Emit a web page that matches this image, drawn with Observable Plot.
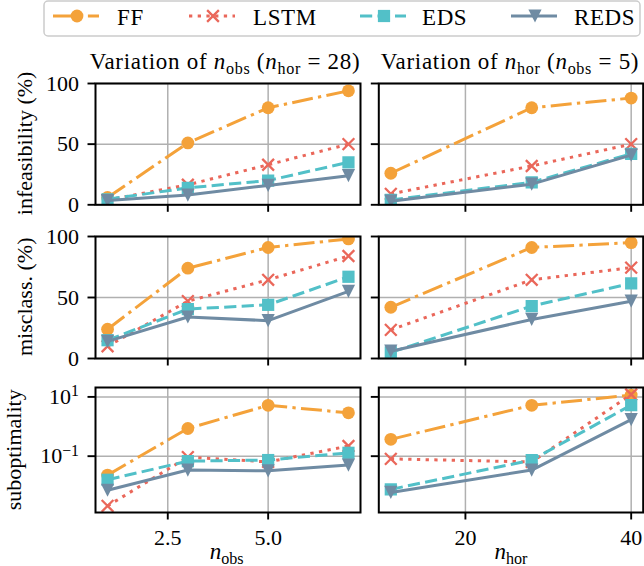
<!DOCTYPE html>
<html><head><meta charset="utf-8">
<script src="https://cdn.jsdelivr.net/npm/d3@7"></script>
<script src="https://cdn.jsdelivr.net/npm/@observablehq/plot@0.6"></script>
<style>
body{margin:0;background:#fff;}
#wrap{position:relative;width:644px;height:566px;overflow:hidden;font-family:"Liberation Serif",serif;color:#000;}
#wrap > div.panel{position:absolute;}
#overlay{position:absolute;left:0;top:0;pointer-events:none;}
</style></head><body><div id="wrap"></div>
<script>
// ---------- data ----------
const nObs = [1, 3, 5, 7];
const nHor = [11, 28, 40];
const methods = ["FF", "LSTM", "EDS", "REDS"];
const colors = ["#F4A23A", "#EA675A", "#52C0C8", "#6F8BA3"];

// each array: rows in method order FF, LSTM, EDS, REDS
const infeasObs   = [[6, 51, 80, 94], [4, 16.5, 33, 50], [4.5, 14, 20, 35], [3.5, 8, 16, 24]];
const infeasHor   = [[26, 80, 88], [9, 32, 50], [4, 18.5, 42], [3, 17, 41]];
const misclassObs = [[24, 74, 91, 98], [10, 47, 64.5, 84], [15, 40.5, 44, 67], [14, 34, 31, 55]];
const misclassHor = [[42, 91, 95], [23.5, 64.5, 74.5], [5, 43, 61.5], [6, 32, 47]];
const suboptObs   = [[0.023, 0.86, 5.2, 2.9], [0.0021, 0.093, 0.064, 0.22], [0.016, 0.068, 0.074, 0.13], [0.0071, 0.034, 0.032, 0.05]];
const suboptHor   = [[0.37, 5.2, 11.5], [0.081, 0.064, 12], [0.0076, 0.074, 5.3], [0.006, 0.034, 1.7]];

const xTicksObs = [2.5, 5.0];
const xTickLabelsObs = ["2.5", "5.0"];
const xTicksHor = [20, 40];
const xTickLabelsHor = ["20", "40"];
const yTicksPct = [0, 50, 100];
const yTickLabelsPct = ["0", "50", "100"];
const yTicksLog = [0.1, 10];
const yTickLabelsLog = ["10^−1", "10^1"];
const rowLabels = ["infeasibility (%)", "misclass. (%)", "suboptimality"];

// ---------- styles ----------
const dashes = ["21,5.3,3.3,5.3", "3.3,5.4", "12.2,5.3", undefined];
const triangleDown = {
  draw(context, size) {
    const r = Math.sqrt(size / Math.PI);
    context.moveTo(-r, -r);
    context.lineTo(r, -r);
    context.lineTo(0, r);
    context.closePath();
  }
};
const symbols = ["circle", "times", "square", triangleDown];
const radii = [6.4, 5.4, 6.9, 6.6];
const FONT = "'Liberation Serif', serif";

const wrap = d3.select("#wrap");

const colFrame = [[95, 360], [378.3, 642.7]];
const rowFrame = [[82.7, 204], [235.7, 357.7], [387.3, 512.3]];
const colSvg = [[0, 364], [366, 278]];

const panels = [
  {row: 0, col: 0, xs: nObs, data: infeasObs},
  {row: 0, col: 1, xs: nHor, data: infeasHor},
  {row: 1, col: 0, xs: nObs, data: misclassObs},
  {row: 1, col: 1, xs: nHor, data: misclassHor},
  {row: 2, col: 0, xs: nObs, data: suboptObs},
  {row: 2, col: 1, xs: nHor, data: suboptHor},
];

function seriesMarks(xs, rows) {
  const marks = [];
  rows.forEach((vals, i) => {
    const d = xs.map((x, j) => ({x, y: vals[j]}));
    marks.push(Plot.line(d, {x: "x", y: "y", stroke: colors[i], strokeWidth: 3,
      strokeDasharray: dashes[i], strokeLinecap: "butt", clip: true}));
    const isStroke = symbols[i] === "times";
    marks.push(Plot.dot(d, {x: "x", y: "y", symbol: symbols[i], r: radii[i],
      fill: isStroke ? "none" : colors[i], stroke: isStroke ? colors[i] : "none",
      strokeWidth: isStroke ? 2.3 : 0, clip: true}));
  });
  return marks;
}

for (const p of panels) {
  const [sl, sw] = colSvg[p.col];
  const [f0, f1] = colFrame[p.col];
  const [t0, t1] = rowFrame[p.row];
  const mTop = 10, mBot = p.row === 2 ? 50 : 14;
  const top = t0 - mTop;
  const height = (t1 - t0) + mTop + mBot;
  const isObs = p.col === 0;
  const xt = isObs ? xTicksObs : xTicksHor;
  const xl = isObs ? xTickLabelsObs : xTickLabelsHor;
  const isLog = p.row === 2;
  const yt = isLog ? yTicksLog : yTicksPct;
  const yl = isLog ? yTickLabelsLog : yTickLabelsPct;
  const xdom = isObs ? [0.7, 7.3] : [9.55, 41.45];
  const ydom = isLog ? [10 ** -2.9, 10 ** 1.317] : [0, 100];

  const chart = Plot.plot({
    width: sw, height,
    marginLeft: f0 - sl, marginRight: sl + sw - f1,
    marginTop: mTop, marginBottom: mBot,
    style: {fontFamily: FONT, fontSize: "22px", color: "#000", background: "none", overflow: "visible"},
    x: {domain: xdom},
    y: {domain: ydom, type: isLog ? "log" : "linear"},
    marks: [
      Plot.gridX({ticks: xt, stroke: "#b0b0b0", strokeOpacity: 1, strokeWidth: 1.5}),
      Plot.gridY({ticks: yt, stroke: "#b0b0b0", strokeOpacity: 1, strokeWidth: 1.5}),
      ...seriesMarks(p.xs, p.data),
      Plot.frame({stroke: "#000", strokeWidth: 2}),
      Plot.axisX({ticks: xt, tickSize: 7.5, tickPadding: 9, strokeWidth: 1.9, label: null,
        tickFormat: p.row === 2 ? (d => xl[xt.indexOf(d)]) : (() => "")}),
      Plot.axisY({ticks: yt, tickSize: 7.5, tickPadding: 9, strokeWidth: 1.9, label: null,
        tickFormat: p.col === 0 ? (d => yl[yt.indexOf(d)]) : (() => "")})
    ]
  });
  // superscript exponents for log tick labels
  d3.select(chart).selectAll("text").each(function () {
    const s = this.textContent;
    if (s && s.startsWith("10^")) {
      const exp = s.slice(3);
      this.textContent = "";
      const el = d3.select(this);
      el.append("tspan").text("10");
      el.append("tspan").attr("dy", "-0.48em").attr("font-size", "0.72em").text(exp);
    }
  });
  wrap.append("div").attr("class", "panel")
    .style("left", sl + "px").style("top", top + "px")
    .node().appendChild(chart);
}

// ---------- overlay text: titles, axis labels, legend ----------
const ov = wrap.append("svg").attr("id", "overlay").attr("width", 644).attr("height", 566)
  .style("font-family", FONT).style("font-size", "22px");

function mathText(g, x, y, parts, size = 22, spacing = 0) {
  const t = g.append("text").attr("x", x).attr("y", y).attr("text-anchor", "middle")
    .attr("fill", "#000").attr("font-size", size).attr("letter-spacing", spacing);
  const sub = size * 0.7, shift = size * 0.23;
  let shifted = false;
  for (const part of parts) {
    const ts = t.append("tspan").text(part.t);
    if (part.i) ts.attr("font-style", "italic");
    if (part.sub) { ts.attr("font-size", sub); if (!shifted) { ts.attr("dy", shift); shifted = true; } }
    else if (shifted) { ts.attr("dy", -shift); shifted = false; }
  }
  return t;
}

const titleObs = [{t: "Variation of "}, {t: "n", i: true}, {t: "obs", sub: true}, {t: " ("}, {t: "n", i: true}, {t: "hor", sub: true}, {t: " = 28)"}];
const titleHor = [{t: "Variation of "}, {t: "n", i: true}, {t: "hor", sub: true}, {t: " ("}, {t: "n", i: true}, {t: "obs", sub: true}, {t: " = 5)"}];
mathText(ov, 225, 69, titleObs, 23, 0.7);
mathText(ov, 510, 69, titleHor, 23, 0.7);

mathText(ov, 226.6, 559, [{t: "n", i: true}, {t: "obs", sub: true}], 23);
mathText(ov, 511, 559, [{t: "n", i: true}, {t: "hor", sub: true}], 23);

const ylabPos = [[32, 143.4], [32, 296.8], [20.5, 449.8]];
rowLabels.forEach((lab, i) => {
  ov.append("text").attr("transform", `translate(${ylabPos[i][0]},${ylabPos[i][1]}) rotate(-90)`)
    .attr("text-anchor", "middle").attr("fill", "#000").text(lab);
});

// legend
const lg = ov.append("g");
lg.append("rect").attr("x", 44).attr("y", 1).attr("width", 596).attr("height", 35).attr("rx", 4)
  .attr("fill", "#fff").attr("fill-opacity", 0.8).attr("stroke", "#cccccc").attr("stroke-width", 1.5);
const swatchX = [53, 189, 360, 511];
const labelX = [117, 253, 422, 574];
methods.forEach((m, i) => {
  const x0 = swatchX[i];
  lg.append("line").attr("x1", x0).attr("x2", x0 + 46).attr("y1", 16).attr("y2", 16)
    .attr("stroke", colors[i]).attr("stroke-width", 3).attr("stroke-dasharray", dashes[i] || null);
  const isStroke = symbols[i] === "times";
  const symType = symbols[i] === "circle" ? d3.symbolCircle : symbols[i] === "times" ? d3.symbolTimes
    : symbols[i] === "square" ? d3.symbolSquare : triangleDown;
  lg.append("path").attr("transform", `translate(${x0 + 24},16)`)
    .attr("d", d3.symbol(symType, Math.PI * radii[i] * radii[i])())
    .attr("fill", isStroke ? "none" : colors[i]).attr("stroke", isStroke ? colors[i] : "none")
    .attr("stroke-width", isStroke ? 2.3 : 0);
  lg.append("text").attr("x", labelX[i]).attr("y", 24.5).attr("fill", "#000")
    .attr("font-size", 23).attr("letter-spacing", 0.6).text(m);
});
</script></body></html>
